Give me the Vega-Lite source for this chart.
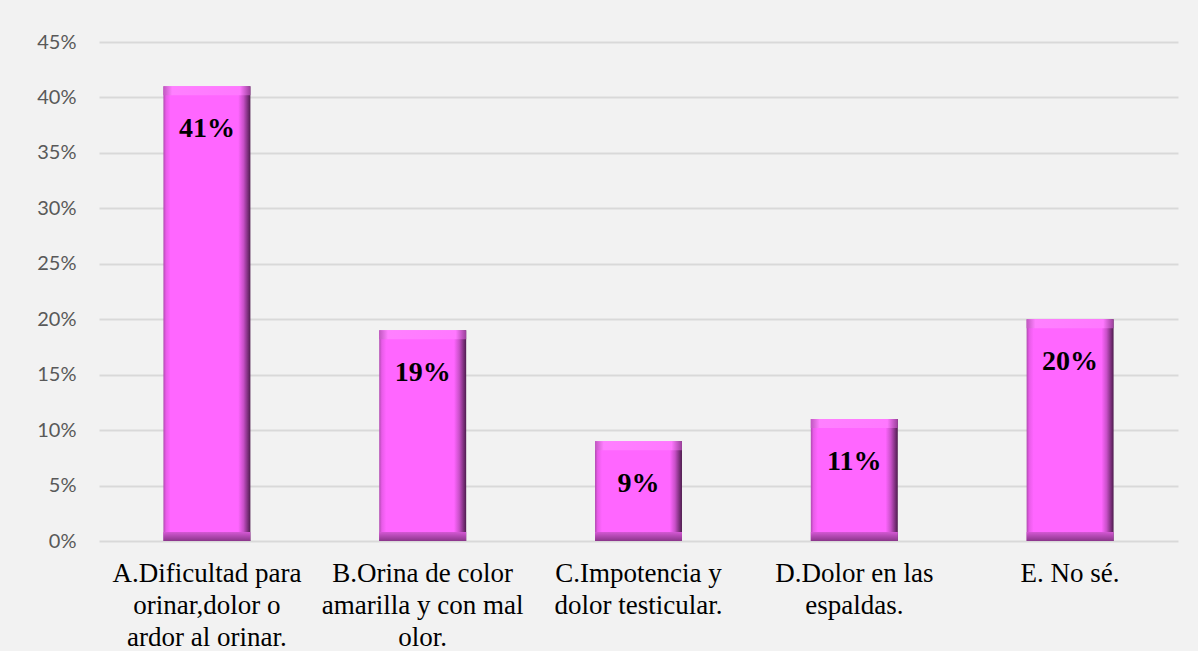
{
  "$schema": "https://vega.github.io/schema/vega-lite/v6.json",
  "width": 1079,
  "height": 499,
  "autosize": {"type": "none"},
  "padding": {"left": 99, "top": 42, "right": 20, "bottom": 110},
  "background": "#F2F2F2",
  "config": {
    "view": {"stroke": null},
    "axis": {"title": null, "domain": false, "ticks": false}
  },
  "data": {
    "values": [
      {"categoria": "A.Dificultad para\norinar,dolor o\nardor al orinar.", "porcentaje": 0.41},
      {"categoria": "B.Orina de color\namarilla y con mal\nolor.", "porcentaje": 0.19},
      {"categoria": "C.Impotencia y\ndolor testicular.", "porcentaje": 0.09},
      {"categoria": "D.Dolor en las\nespaldas.", "porcentaje": 0.11},
      {"categoria": "E. No sé.", "porcentaje": 0.20}
    ]
  },
  "encoding": {
    "x": {
      "field": "categoria",
      "type": "nominal",
      "sort": null,
      "scale": {"paddingInner": 0.597, "paddingOuter": 0.2985},
      "axis": {
        "labelAngle": 0,
        "labelFont": "Liberation Serif",
        "labelFontSize": 27,
        "labelColor": "#000000",
        "labelLineHeight": 32,
        "labelPadding": 19,
        "labelLimit": 400,
        "labelOverlap": false,
        "labelBaseline": "top",
        "labelExpr": "split(datum.label, '\\n')",
        "grid": false
      }
    }
  },
  "layer": [
    {
      "mark": {
        "type": "bar",
        "color": {
          "gradient": "linear",
          "x1": 0, "x2": 1, "y1": 0, "y2": 0,
          "stops": [
            {"offset": 0, "color": "#B04AB0"},
            {"offset": 0.03, "color": "#E85CE8"},
            {"offset": 0.08, "color": "#FF66FF"},
            {"offset": 0.86, "color": "#FF66FF"},
            {"offset": 0.92, "color": "#C850C8"},
            {"offset": 1, "color": "#4E1C4E"}
          ]
        }
      },
      "encoding": {
        "y": {
          "field": "porcentaje",
          "type": "quantitative",
          "scale": {"domain": [0, 0.45]},
          "axis": {
            "format": ".0%",
            "values": [0, 0.05, 0.1, 0.15, 0.2, 0.25, 0.3, 0.35, 0.4, 0.45],
            "labelFont": "Lato",
            "labelFontSize": 20,
            "labelColor": "#595959",
            "labelPadding": 23,
            "grid": true,
            "gridColor": "#D9D9D9",
            "gridWidth": 2
          }
        }
      }
    },
    {
      "mark": {
        "type": "bar",
        "y2Offset": 9,
        "color": {
          "gradient": "linear",
          "x1": 0, "x2": 1, "y1": 0, "y2": 0,
          "stops": [
            {"offset": 0, "color": "#C058C0"},
            {"offset": 0.1, "color": "#FF80FF"},
            {"offset": 0.88, "color": "#FF78FF"},
            {"offset": 1, "color": "#9A409A"}
          ]
        }
      },
      "encoding": {
        "y": {"field": "porcentaje", "type": "quantitative"},
        "y2": {"field": "porcentaje"}
      }
    },
    {
      "mark": {
        "type": "bar",
        "yOffset": -9,
        "color": {
          "gradient": "linear",
          "x1": 0, "x2": 0, "y1": 0, "y2": 1,
          "stops": [
            {"offset": 0, "color": "#D458D4"},
            {"offset": 1, "color": "#8A368A"}
          ]
        }
      },
      "encoding": {
        "y": {"datum": 0, "type": "quantitative"},
        "y2": {"datum": 0}
      }
    },
    {
      "mark": {
        "type": "text",
        "font": "Liberation Serif",
        "fontSize": 28,
        "fontWeight": "bold",
        "color": "#000000",
        "baseline": "middle",
        "align": "center",
        "dy": 43
      },
      "encoding": {
        "y": {"field": "porcentaje", "type": "quantitative"},
        "text": {"field": "porcentaje", "type": "quantitative", "format": ".0%"}
      }
    }
  ]
}
